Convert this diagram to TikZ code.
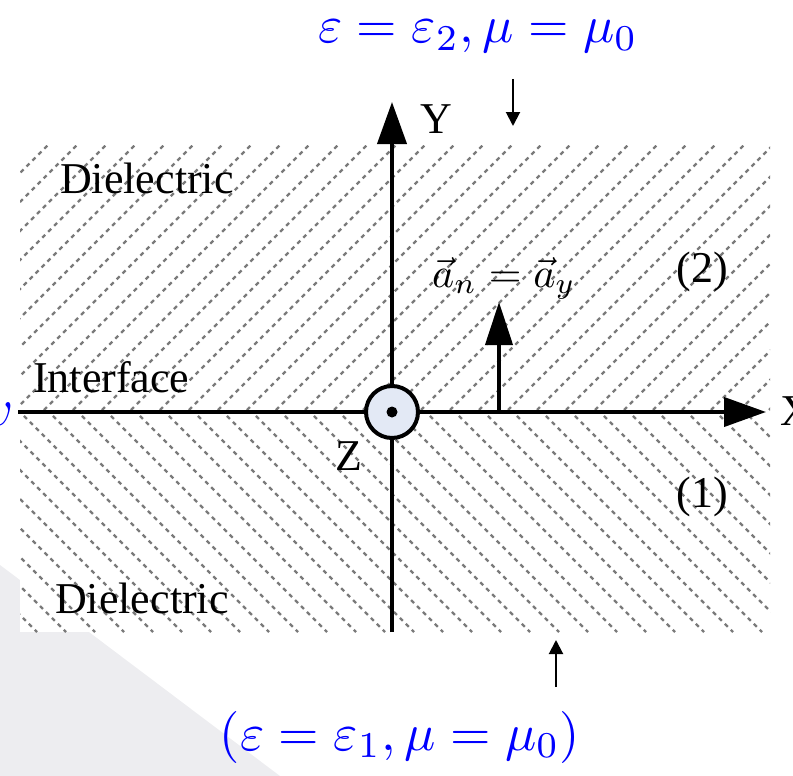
\documentclass[tikz,border=0pt]{standalone}
\usepackage{graphicx}
\usepackage{fontspec}
\setmainfont{Liberation Serif}
\usepackage{tikz}
\usetikzlibrary{arrows.meta}
\definecolor{hatchgray}{HTML}{7A7A7A}
\definecolor{bgshade}{HTML}{EDEDF0}
\definecolor{dotfill}{HTML}{E3E9F5}
\tikzset{hatchln/.style={hatchgray, line width=2.2pt, dash pattern=on 4.2pt off 4.2pt}}
\tikzset{axisln/.style={line width=4pt, -{Triangle[length=42pt,width=29pt]}}}
\tikzset{pointer/.style={line width=2pt, -{Triangle[length=14pt,width=14pt]}}}
\tikzset{lbl/.style={inner sep=0pt, font=\fontsize{44}{50}\selectfont}}
\tikzset{eqn/.style={inner sep=0pt, text=blue, font=\normalsize}}
\begin{document}
\begin{tikzpicture}[x=1pt, y=-1pt]

\useasboundingbox (0,0) rectangle (793,776);

\fill[bgshade] (0,565) -- (280,776) -- (0,776) -- cycle;
\fill[white] (20,145) rectangle (770,632);

\begin{scope}
\clip (20,145) rectangle (770,410);
\foreach \k in {-24,...,14} \draw[hatchln] (392+29*\k,410) -- ++ (265,-265);
\end{scope}
\begin{scope}
\clip (20,410) rectangle (770,632);
\foreach \k in {-22,...,14} \draw[hatchln] (395+29*\k,410) -- ++ (222,222);
\end{scope}

\coordinate (O) at (392,412);
\coordinate (xl) at (18,412);
\coordinate (xr) at (766,412);
\coordinate (yb) at (392,632);
\coordinate (yt) at (392,102);
\draw[axisln] (xl) -- (xr);
\draw[axisln] (yb) -- (yt);

\coordinate (nb) at (499,412);
\coordinate (nt) at (499,302);
\draw[line width=4pt, -{Triangle[length=43pt,width=27pt]}] (nb) -- (nt);

\node[circle, draw, line width=4pt, fill=dotfill, minimum size=52pt, inner sep=0pt] (zpt) at (O) {};
\node[circle, fill=black, inner sep=0pt, minimum size=11pt] (zdot) at (O) {};

\node[lbl, anchor=base west] (ylab) at (420,133) {Y};
\node[lbl, anchor=base west] (xlab) at (780,425) {X};
\node[lbl, anchor=base west] (zlab) at (335,470) {Z};
\node[lbl, anchor=base west] (diel2) at (60,193) {Dielectric};
\node[lbl, anchor=base west] (diel1) at (55,613) {Dielectric};
\node[lbl, anchor=base west] (iface) at (33,392) {Interface};
\node[lbl] (reg2) at (702,272) {(2)};
\node[lbl] (reg1) at (702,497) {(1)};
\node[inner sep=0pt, font=\normalsize, anchor=base west] (anorm) at (432,287) {\scalebox{4.2}{$\vec{a}_n=\vec{a}_y$}};

\node[eqn, anchor=base] (eps2) at (478,43) {\scalebox{5.2}{$\varepsilon=\varepsilon_2,\mu=\mu_0$}};
\node[eqn, anchor=base] (eps1) at (400,750) {\scalebox{5.2}{$(\varepsilon=\varepsilon_1,\mu=\mu_0)$}};
\node[eqn, anchor=base east] (lft) at (14,425) {\scalebox{5.2}{$v$}};

\coordinate (dtop) at (513,79);
\coordinate (dbot) at (513,126);
\draw[pointer] (dtop) -- (dbot);
\coordinate (ubot) at (556,687);
\coordinate (utop) at (556,640);
\draw[pointer] (ubot) -- (utop);

\end{tikzpicture}
\end{document}
